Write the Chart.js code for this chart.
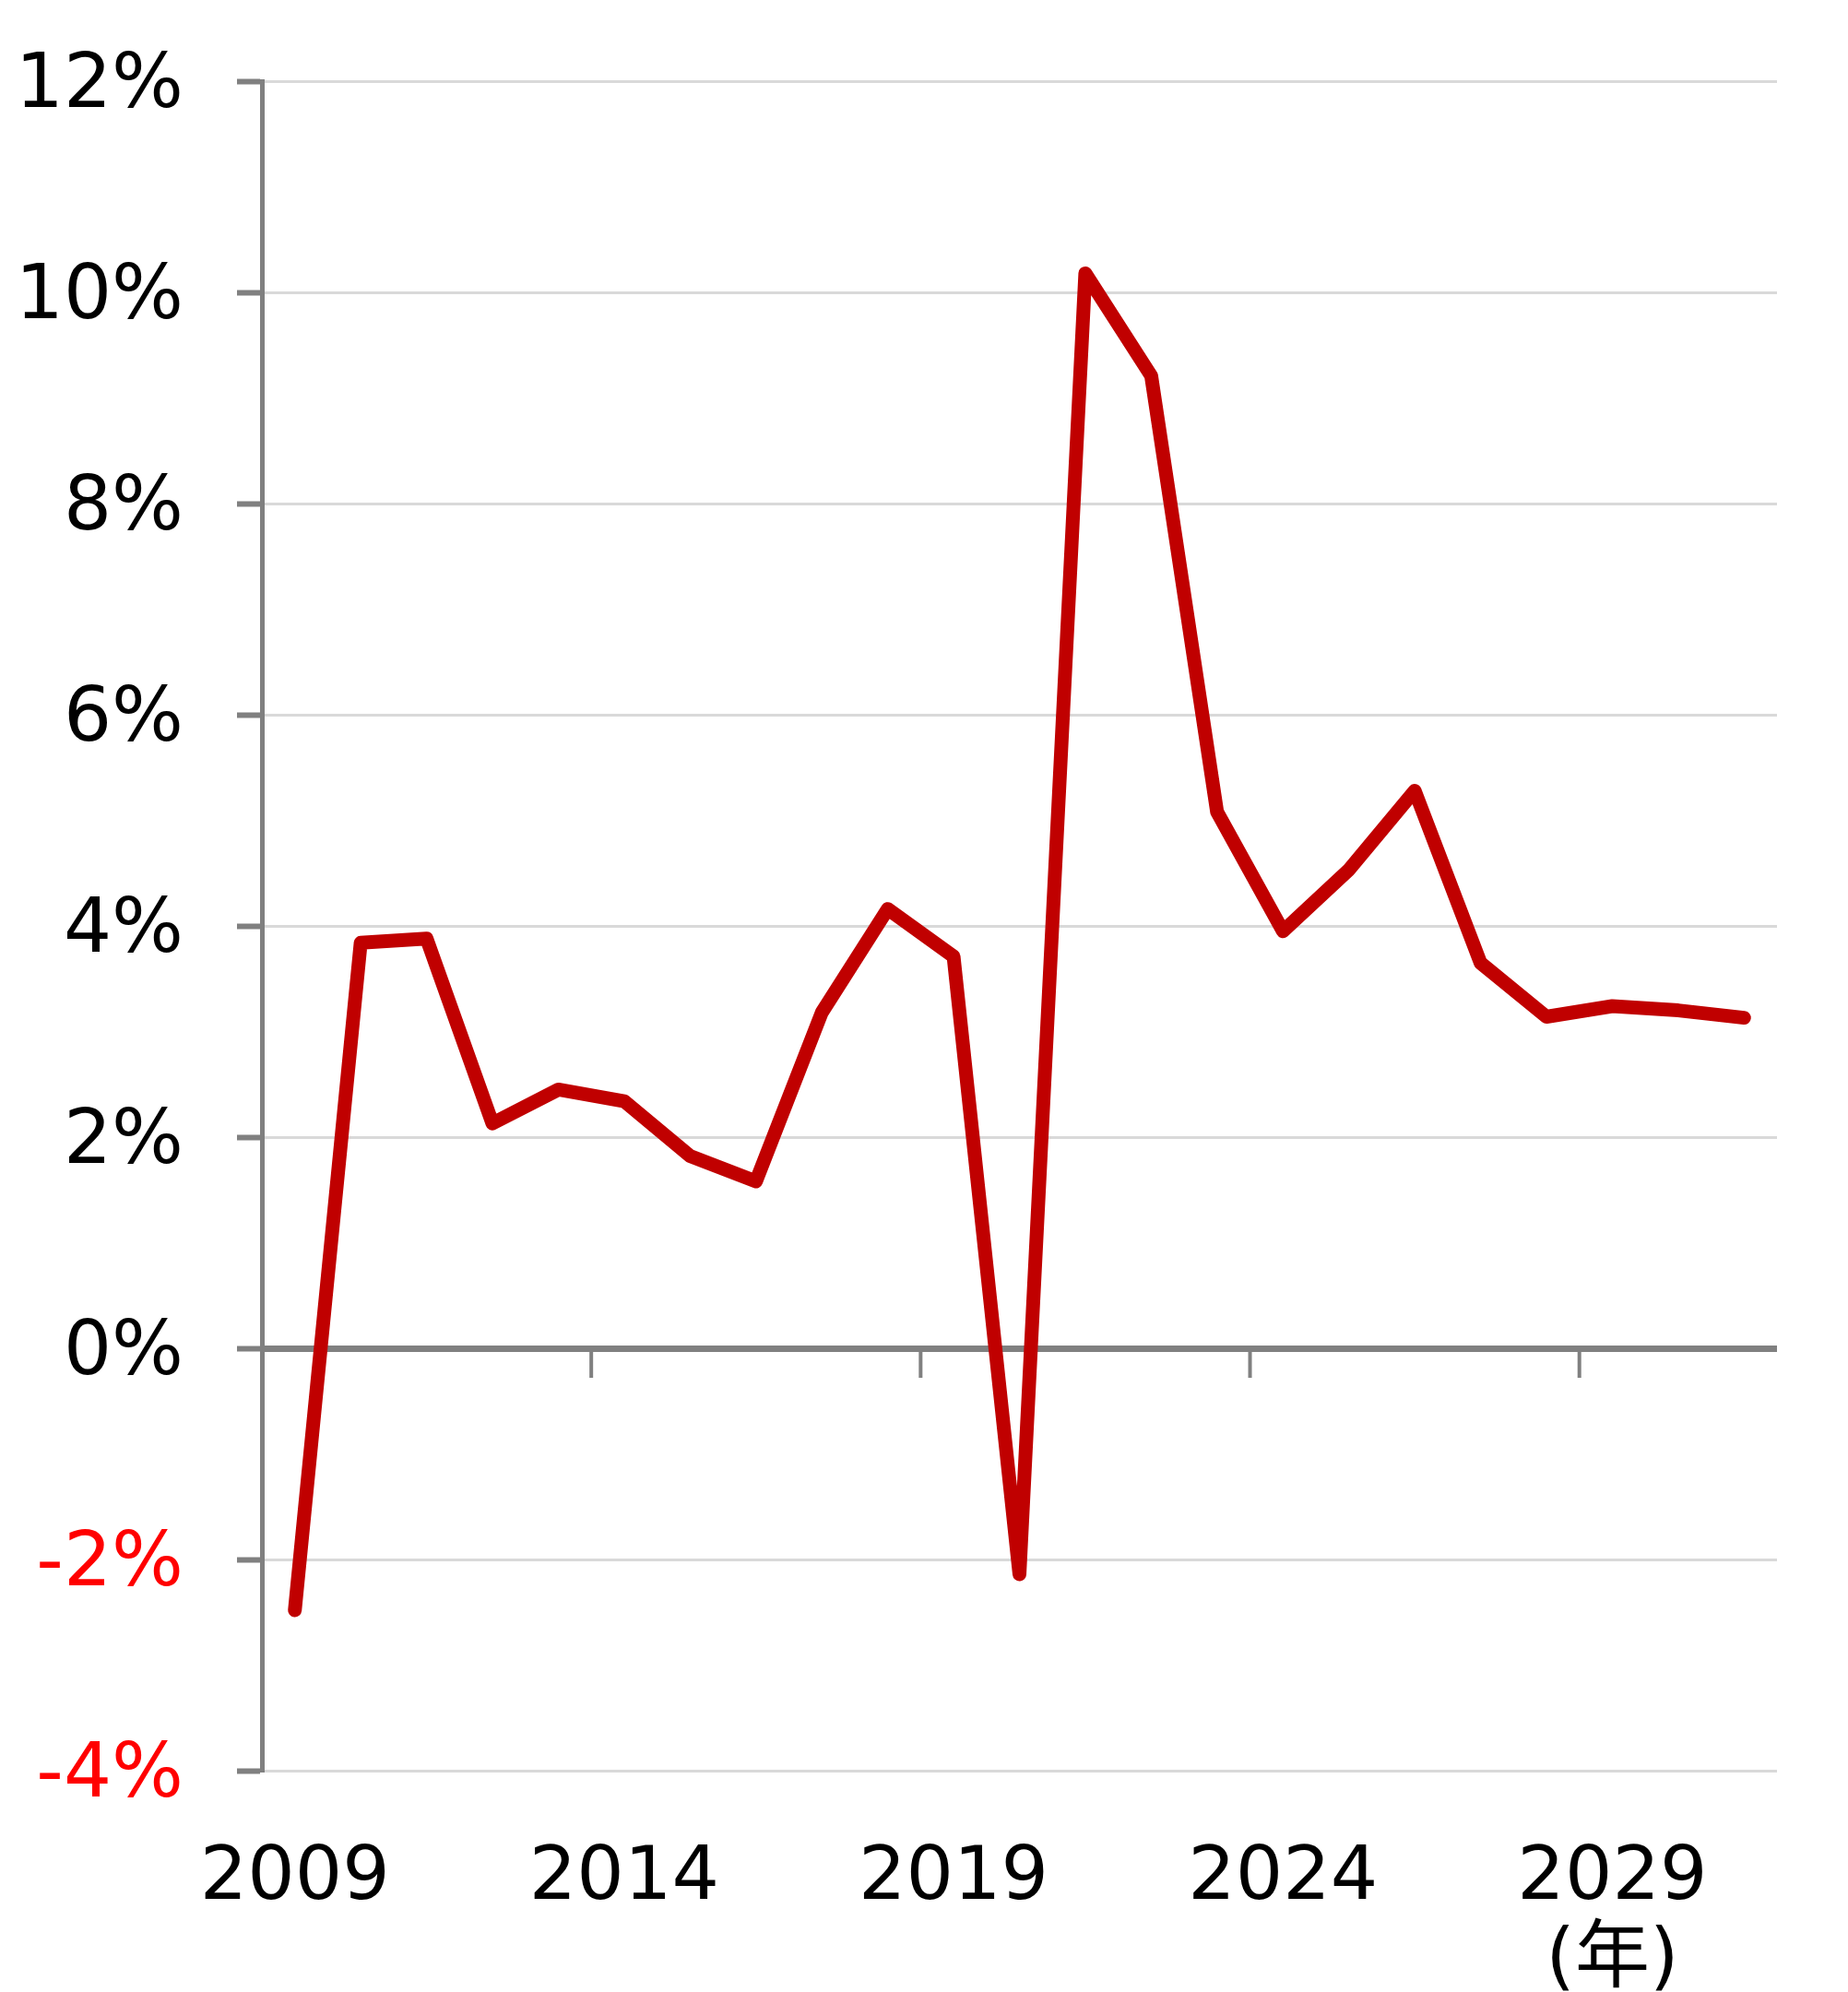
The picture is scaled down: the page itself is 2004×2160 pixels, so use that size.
<!DOCTYPE html>
<html>
<head>
<meta charset="utf-8">
<script src="https://cdn.jsdelivr.net/npm/chart.js@4"></script>
<style>
  html, body { margin: 0; padding: 0; background: #ffffff; }
  #wrap { width: 2004px; height: 2160px; position: relative; }
</style>
</head>
<body>
<div id="wrap"><canvas id="growthChart"></canvas></div>
<script>
  const years = ["2009","2010","2011","2012","2013","2014","2015","2016","2017","2018","2019",
    "2020","2021","2022","2023","2024","2025","2026","2027","2028","2029","2030","2031"];
  const growth = [-2.48, 3.84, 3.88, 2.13, 2.45, 2.34, 1.82, 1.58, 3.18, 4.16, 3.71,
    -2.14, 10.18, 9.21, 5.08, 3.95, 4.53, 5.28, 3.65, 3.14, 3.24, 3.2, 3.13];
  const yTicks = [-4, -2, 0, 2, 4, 6, 8, 10, 12];
  const yearUnit = "(年)";

  const fontFamily = '"DejaVu Sans", "Noto Sans CJK JP", sans-serif';

  // small down ticks on the zero line, between categories every 5 years
  const zeroTicks = {
    id: 'zeroTicks',
    afterDatasetsDraw(chart) {
      const x = chart.scales.x;
      const y0 = chart.scales.y.getPixelForValue(0);
      const ctx = chart.ctx;
      ctx.save();
      ctx.strokeStyle = '#808080';
      ctx.lineWidth = 4;
      for (let i = 5; i < years.length; i += 5) {
        const px = (x.getPixelForValue(i - 1) + x.getPixelForValue(i)) / 2;
        ctx.beginPath();
        ctx.moveTo(px, y0);
        ctx.lineTo(px, y0 + 32);
        ctx.stroke();
      }
      ctx.restore();
    }
  };

  const config = {
    type: 'line',
    data: {
      labels: years,
      datasets: [{
        data: growth,
        borderColor: '#C00000',
        borderWidth: 15,
        borderJoinStyle: 'round',
        borderCapStyle: 'round',
        pointRadius: 0,
        tension: 0,
        fill: false
      }]
    },
    options: {
      responsive: true,
      maintainAspectRatio: false,
      animation: false,
      layout: { padding: { top: 88, right: 77, bottom: 0, left: 0 } },
      plugins: {
        legend: { display: false },
        tooltip: { enabled: false }
      },
      scales: {
        x: {
          offset: true,
          grid: { display: false, drawTicks: false },
          border: { display: false },
          ticks: {
            autoSkip: false,
            maxRotation: 0,
            padding: 73,
            color: '#000000',
            font: { family: fontFamily, size: 81, lineHeight: 1.1 },
            callback: function (value, index) {
              if (index % 5 !== 0) return '';
              if (years[index] === '2029') return [years[index], yearUnit];
              return years[index];
            }
          },
          afterFit: function (scale) { scale.height = 240; }
        },
        y: {
          min: -4,
          max: 12,
          afterBuildTicks: function (scale) {
            scale.ticks = yTicks.map(v => ({ value: v }));
          },
          grid: {
            color: ctx => ctx.tick && ctx.tick.value === 0 ? '#808080' : '#d9d9d9',
            lineWidth: ctx => ctx.tick && ctx.tick.value === 0 ? 7 : 3,
            tickColor: '#808080',
            tickWidth: 6,
            tickLength: 27
          },
          border: { color: '#808080', width: 5 },
          ticks: {
            padding: 58,
            labelOffset: 7,
            color: ctx => ctx.tick.value < 0 ? '#FF0000' : '#000000',
            font: { family: fontFamily, size: 82 },
            callback: value => value + '%'
          },
          afterFit: function (scale) {
            scale.width = 284;
            scale.paddingTop = 0;
            scale.paddingBottom = 0;
          }
        }
      }
    },
    plugins: [zeroTicks]
  };

  new Chart(document.getElementById('growthChart'), config);
</script>
</body>
</html>
